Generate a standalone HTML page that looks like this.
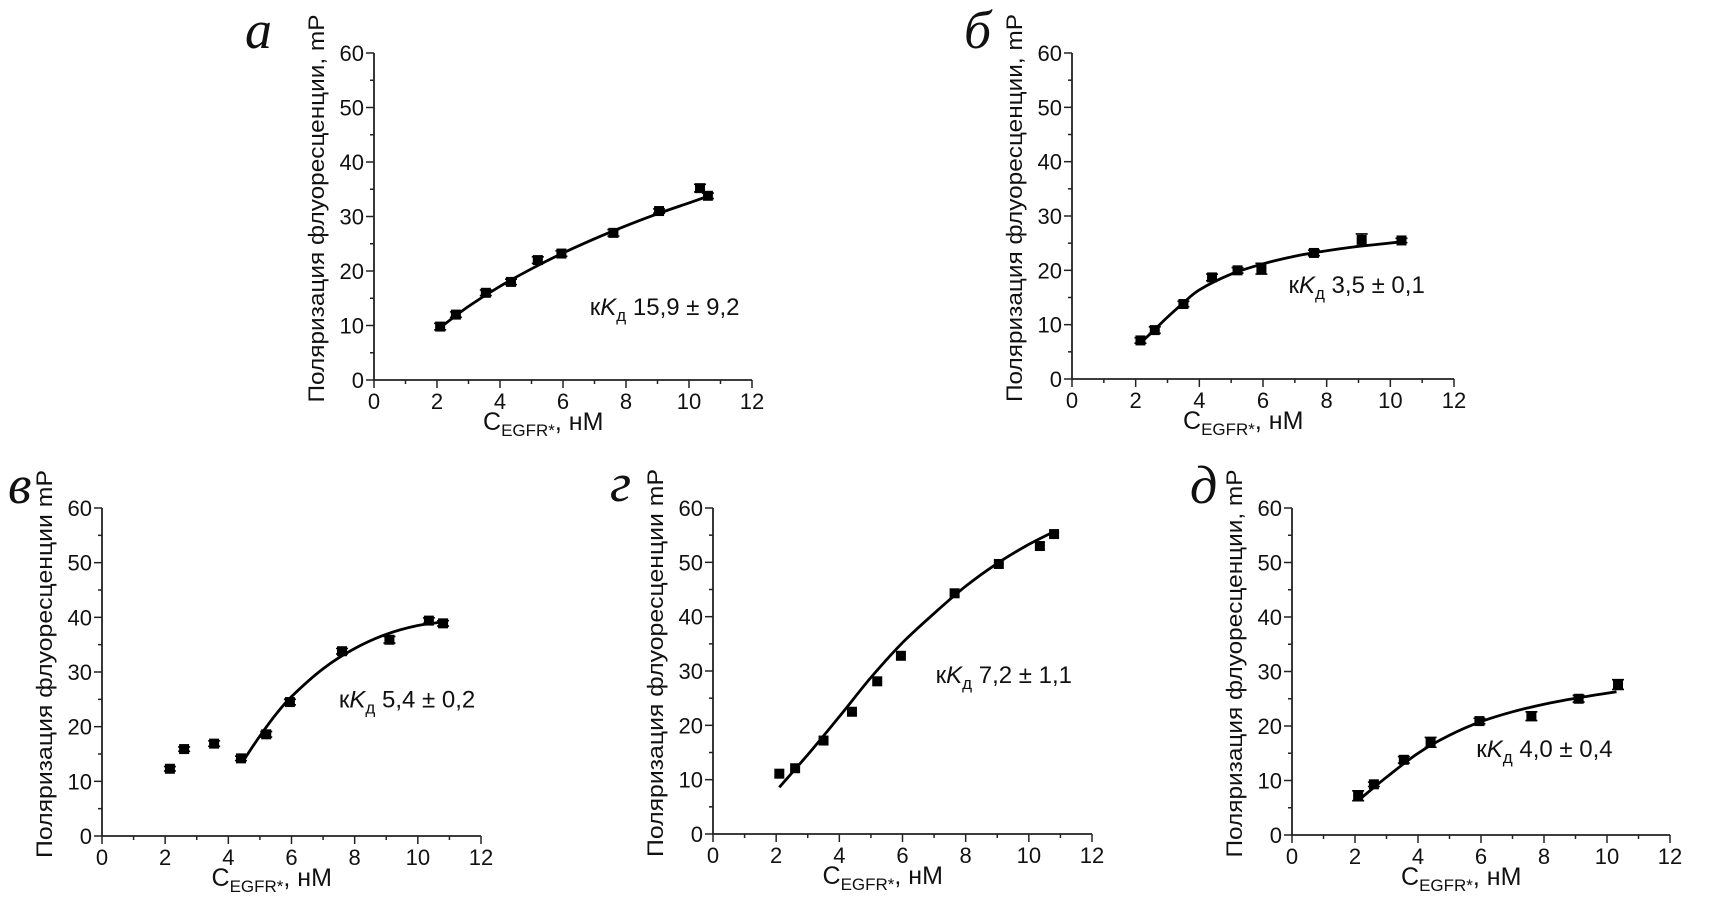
<!DOCTYPE html>
<html><head><meta charset="utf-8">
<style>
html,body{margin:0;padding:0;background:#fff;}
svg{display:block;}
text{font-family:"Liberation Sans",Arial,sans-serif;fill:#111;}
.lbl{font-family:"Liberation Serif","DejaVu Serif",serif;font-style:italic;font-size:54px;}
</style></head>
<body>
<svg id="fig" width="1726" height="901" viewBox="0 0 1726 901" xmlns="http://www.w3.org/2000/svg"></svg>
<script>
// ---- data ----
const xTicks = [0,2,4,6,8,10,12];
const yTicks = [0,10,20,30,40,50,60];
const panelLetters = ['а','б','в','г','д'];
const kdLabels = ['15,9 ± 9,2','3,5 ± 0,1','5,4 ± 0,2','7,2 ± 1,1','4,0 ± 0,4'];
const yTitles = ['Поляризация флуоресценции, mP','Поляризация флуоресценции, mP','Поляризация флуоресценции mP','Поляризация флуоресценции mP','Поляризация флуоресценции, mP'];

const aX = [2.1,2.6,3.55,4.35,5.2,5.95,7.6,9.05,10.35,10.6];
const aY = [9.8,12,16,18,22,23.2,27,31,35.2,33.8];
const aFitX = [2.1,3,4,5,6,7,8,9,10,10.6];
const aFitY = [9.6,13.5,17.2,20.4,23.3,25.9,28.3,30.5,32.5,33.7];

const bX = [2.15,2.6,3.5,4.4,5.2,5.95,7.6,9.1,10.35];
const bY = [7.1,9,13.8,18.7,20,20.3,23.2,25.6,25.5];
const bFitX = [2.2,2.6,3,3.5,4,5,6,7,8,9,10.45];
const bFitY = [6.9,9.1,11.4,14.0,16.4,19.3,21.2,22.6,23.6,24.4,25.3];

const cX = [2.15,2.6,3.55,4.4,5.2,5.95,7.6,9.1,10.35,10.8];
const cY = [12.3,15.9,16.9,14.2,18.6,24.5,33.8,35.9,39.4,38.9];
const cFitX = [4.5,5,5.5,6,7,8,9,10,10.9];
const cFitY = [14,18.3,22.2,25.5,30.6,34.3,36.9,38.5,39.2];

const dX = [2.1,2.6,3.5,4.4,5.2,5.95,7.65,9.05,10.35,10.8];
const dY = [11.1,12.1,17.2,22.5,28.1,32.8,44.3,49.7,53,55.2];
const dFitX = [2.1,3,4,5,6,7,8,9,10,10.85];
const dFitY = [8.6,14.6,21.6,28.8,35.2,40.6,45.6,49.8,53.3,55.8];

const eX = [2.1,2.6,3.55,4.4,5.95,7.6,9.1,10.35];
const eY = [7.2,9.3,13.8,17,20.9,21.8,25,27.6];
const eFitX = [2.2,3,4,5,6,7,8,9,10.3];
const eFitY = [6.8,10.6,15,18.3,20.8,22.6,24,25.1,26.3];

const errA = [0.6,0.5,0.5,0.5,0.6,0.5,0.6,0.4,0.7,0.5];
const errB = [0.5,0.6,0.5,0.6,0.5,1.0,0.5,1.1,0.4];
const errC = [0.4,0.4,0.5,0.4,0.5,0.5,0.5,0.6,0.5,0.5];
const errE = [0.9,0.4,0.6,0.9,0.5,0.8,0.6,0.9];

// ---- layout ----
const panels = [
 {name:'panel-a', x0:374, x1:752, y0:380, y1:53, px:aX, py:aY, fx:aFitX, fy:aFitY, err:errA, kdx:6.85, kdy:11.9, lx:245, ly:48},
 {name:'panel-b', x0:1072, x1:1454, y0:379, y1:53, px:bX, py:bY, fx:bFitX, fy:bFitY, err:errB, kdx:6.8, kdy:15.8, lx:964, ly:48},
 {name:'panel-v', x0:102, x1:481, y0:836, y1:508, px:cX, py:cY, fx:cFitX, fy:cFitY, err:errC, kdx:7.5, kdy:23.5, lx:8, ly:503},
 {name:'panel-g', x0:713, x1:1092, y0:834, y1:508, px:dX, py:dY, fx:dFitX, fy:dFitY, err:null, kdx:7.05, kdy:27.8, lx:610, ly:501},
 {name:'panel-d', x0:1292, x1:1670, y0:835, y1:508, px:eX, py:eY, fx:eFitX, fy:eFitY, err:errE, kdx:5.85, kdy:14.3, lx:1190, ly:503}
];

const NS='http://www.w3.org/2000/svg';
const svg=document.getElementById('fig');
function mk(tag,attrs,parent){const e=document.createElementNS(NS,tag);for(const k in attrs)e.setAttribute(k,attrs[k]);(parent||svg).appendChild(e);return e;}
function smooth(pts){
  let d='M'+pts[0][0].toFixed(1)+','+pts[0][1].toFixed(1);
  for(let i=0;i<pts.length-1;i++){
    const p0=pts[i-1]||pts[i],p1=pts[i],p2=pts[i+1],p3=pts[i+2]||p2;
    const c1=[p1[0]+(p2[0]-p0[0])/6,p1[1]+(p2[1]-p0[1])/6];
    const c2=[p2[0]-(p3[0]-p1[0])/6,p2[1]-(p3[1]-p1[1])/6];
    d+='C'+c1.map(v=>v.toFixed(1)).join(',')+' '+c2.map(v=>v.toFixed(1)).join(',')+' '+p2[0].toFixed(1)+','+p2[1].toFixed(1);
  }
  return d;
}

panels.forEach((p,i)=>{
  const g=mk('g',{});
  
  
  const sx=v=>p.x0+(p.x1-p.x0)*v/12;
  const sy=v=>p.y0+(p.y1-p.y0)*v/60;
  const L=mk('text',{x:p.lx,y:p.ly,class:'lbl'},g);
  L.textContent=panelLetters[i];
  
  
  const ax=mk('path',{d:`M${p.x0},${sy(60)}V${p.y0}H${p.x1}`,stroke:'#222','stroke-width':1.8,fill:'none'},g);
  
  
  for(let v=0;v<=60;v+=5){const maj=v%10===0;mk('line',{x1:p.x0,x2:p.x0-(maj?8:4),y1:sy(v),y2:sy(v),stroke:'#222','stroke-width':1.5},g);}
  for(let v=0;v<=12;v+=1){const maj=v%2===0;mk('line',{x1:sx(v),x2:sx(v),y1:p.y0,y2:p.y0+(maj?8:4),stroke:'#222','stroke-width':1.5},g);}
  yTicks.forEach(v=>{const t=mk('text',{x:p.x0-10,y:sy(v)+8,'text-anchor':'end','font-size':22},g);t.textContent=v;
    
    });
  xTicks.forEach(v=>{const t=mk('text',{x:sx(v),y:p.y0+29,'text-anchor':'middle','font-size':22},g);t.textContent=v;
    
    });
  const cy=(p.y0+p.y1)/2-8, tx=p.x0-50;
  const yt=mk('text',{x:0,y:0,'text-anchor':'middle','font-size':22,transform:`translate(${tx},${cy}) rotate(-90)`,textLength:388,lengthAdjust:'spacingAndGlyphs'},g);
  yt.textContent=yTitles[i];
  
  
  const xt=mk('text',{x:sx(6)-80,y:p.y0+50,'font-size':25},g);
  xt.innerHTML='C<tspan font-size="17" dy="6">EGFR*</tspan><tspan dy="-6">, нМ</tspan>';
  
  
  const pts=p.fx.map((v,k)=>[sx(v),sy(p.fy[k])]);
  const c=mk('path',{d:smooth(pts),stroke:'#000','stroke-width':2.8,fill:'none','stroke-linejoin':'round'},g);
  
  
  p.px.forEach((v,k)=>{
    const X=sx(v),Y=sy(p.py[k]);
    if(p.err){const e=p.err[k];const yt1=sy(p.py[k]+e),yb=sy(p.py[k]-e);
      const eb=mk('path',{d:`M${X},${yt1}V${yb}M${X-6},${yt1}H${X+6}M${X-6},${yb}H${X+6}`,stroke:'#000','stroke-width':1.6,fill:'none'},g);
      
      }
    const r=mk('rect',{x:X-5,y:Y-5,width:10,height:10,fill:'#000'},g);
    
    
  });
  const kt=mk('text',{x:sx(p.kdx),y:sy(p.kdy),'font-size':24},g);
  kt.innerHTML='к<tspan font-style="italic">K</tspan><tspan font-size="17" dy="6">д</tspan><tspan dy="-6"> '+kdLabels[i]+'</tspan>';
  
  
});
</script>
</body></html>
